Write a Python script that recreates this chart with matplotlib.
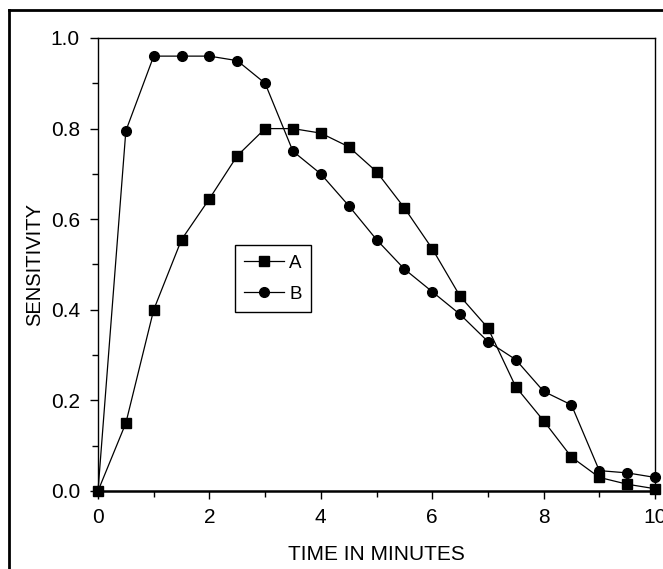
import matplotlib
matplotlib.use("Agg")
import matplotlib.pyplot as plt
from matplotlib.lines import Line2D
from matplotlib.ticker import MultipleLocator

plt.rcParams['font.family'] = ['Liberation Sans', 'DejaVu Sans']

# time in minutes
time = [0, 0.5, 1.0, 1.5, 2.0, 2.5, 3.0, 3.5, 4.0, 4.5, 5.0,
        5.5, 6.0, 6.5, 7.0, 7.5, 8.0, 8.5, 9.0, 9.5, 10.0]
sens_a = [0.0, 0.15, 0.40, 0.555, 0.645, 0.74, 0.80, 0.80, 0.79, 0.76, 0.705,
          0.625, 0.535, 0.43, 0.36, 0.23, 0.155, 0.075, 0.03, 0.015, 0.005]
sens_b = [0.0, 0.795, 0.96, 0.96, 0.96, 0.95, 0.90, 0.75, 0.70, 0.63, 0.555,
          0.49, 0.44, 0.39, 0.33, 0.29, 0.22, 0.19, 0.045, 0.04, 0.03]

fig = plt.figure(figsize=(6.63, 5.69), dpi=100)
ax = fig.add_axes([98 / 663, 1 - 491 / 569, 557 / 663, 453 / 569])

ax.plot(time, sens_a, color='black', lw=0.9, marker='s', ms=6.5, label='A', clip_on=False, zorder=3)
ax.plot(time, sens_b, color='black', lw=0.9, marker='o', ms=7, label='B', clip_on=False, zorder=3)

ax.set_xlim(0, 10)
ax.set_ylim(0, 1.0)
ax.xaxis.set_major_locator(MultipleLocator(2))
ax.xaxis.set_minor_locator(MultipleLocator(1))
ax.yaxis.set_major_locator(MultipleLocator(0.2))
ax.yaxis.set_minor_locator(MultipleLocator(0.1))
ax.yaxis.set_major_formatter(plt.FuncFormatter(lambda v, p: f"{v:.1f}"))
ax.tick_params(which='major', direction='out', length=6, width=1, labelsize=15)
ax.tick_params(which='minor', direction='out', length=4, width=1)
ax.tick_params(axis='x', which='major', pad=6)
ax.tick_params(axis='y', which='major', pad=7)
for s in ['left', 'right', 'top']:
    ax.spines[s].set_linewidth(1)
ax.spines['bottom'].set_linewidth(1.8)

ax.set_xlabel('TIME IN MINUTES', fontsize=15, labelpad=13)
ax.set_ylabel('SENSITIVITY', fontsize=14.5, labelpad=5)

leg = ax.legend(loc='lower left', bbox_to_anchor=(0.246, 0.395), fontsize=13.5,
                handlelength=2.1, handletextpad=0.3, borderpad=0.5,
                borderaxespad=0, fancybox=False, edgecolor='black', framealpha=1,
                labelspacing=0.75)
leg.get_frame().set_linewidth(1)

# outer frame of the picture
fig.add_artist(Line2D([9 / 663, 9 / 663], [0, 1 - 10 / 569], color='black', lw=2, transform=fig.transFigure))
fig.add_artist(Line2D([9 / 663, 1], [1 - 10 / 569, 1 - 10 / 569], color='black', lw=2, transform=fig.transFigure))

fig.savefig('out.png', dpi=100)
